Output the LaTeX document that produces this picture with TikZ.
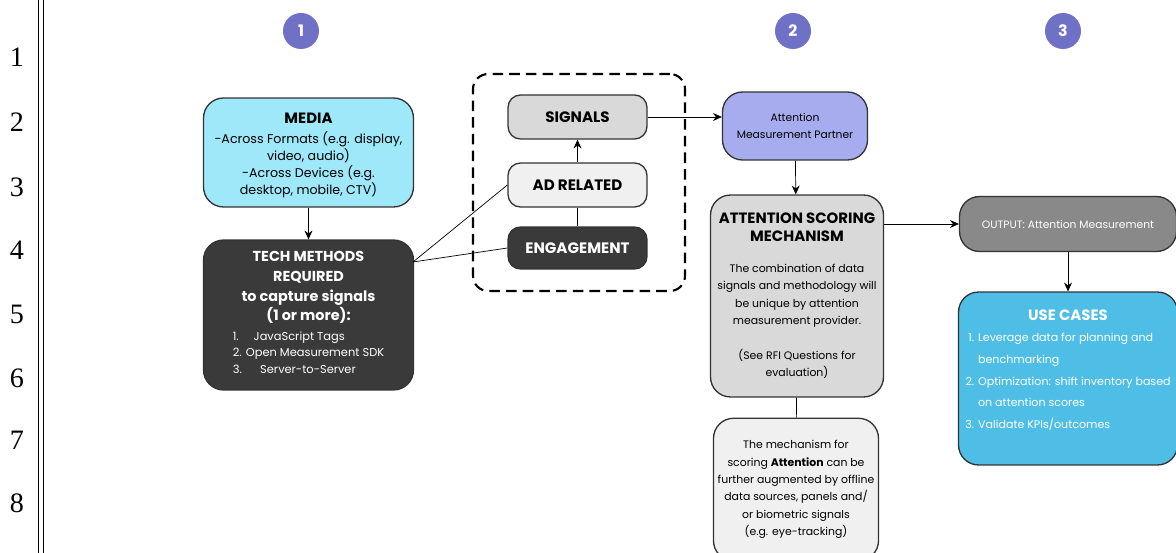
\documentclass[tikz,border=0pt]{standalone}
\usepackage{fontspec}
\setmainfont{Poppins}
\newfontfamily\numfont{Liberation Serif}
\usetikzlibrary{arrows.meta}

\definecolor{stepblue}{RGB}{110,113,198}
\definecolor{mediacyan}{RGB}{158,232,250}
\definecolor{techdark}{RGB}{58,58,58}
\definecolor{signalgray}{RGB}{217,217,217}
\definecolor{palegray}{RGB}{240,240,240}
\definecolor{partnerblue}{RGB}{167,172,238}
\definecolor{outgray}{RGB}{137,137,137}
\definecolor{usecyan}{RGB}{78,190,230}

\newcommand\boxtitle{\fontsize{8.5}{11.5}\selectfont\bfseries}
\newcommand\boxbody{\fontsize{6.2}{9.9}\selectfont\mdseries}

\tikzset{
  box/.style={draw=black!80,line width=.75pt,rounded corners=.4cm,align=center,inner sep=2pt},
  smallbox/.style={box,rounded corners=.25cm,minimum width=2.78cm,font=\fontsize{8.6}{9}\selectfont\bfseries},
  stepnum/.style={circle,fill=stepblue,text=white,minimum size=.72cm,inner sep=0pt,font=\fontsize{9}{10}\selectfont\bfseries},
  lineno/.style={font=\numfont\fontsize{16}{18}\selectfont},
  bodytext/.style={font=\boxbody}
}

\begin{document}
\begin{tikzpicture}[x=.02cm,y=-.02cm,>={Stealth[length=5pt,width=4.5pt]}]
\useasboundingbox (0,0) rectangle (1176,553);
% margin of the page
\foreach \n/\y in {1/57,2/122,3/187,4/250,5/314,6/378,7/440,8/503}
  \node[lineno] (ln\n) at (17,\y) {\n};
\draw[line width=.7pt] (38.5,0) -- (38.5,553);
\draw[line width=.7pt] (43.5,0) -- (43.5,553);

\node[stepnum] (step1) at (301,31) {1};
\node[stepnum] (step2) at (793,31) {2};
\node[stepnum] (step3) at (1063,31) {3};

\node[box,fill=mediacyan,minimum width=4.2cm,minimum height=2.18cm,font=\fontsize{7.2}{9.7}\selectfont] (media) at (308.5,152.5)
  {\raisebox{-1.8pt}[\height][\depth]{\begin{tabular}{@{}c@{}}\boxtitle MEDIA\\[1.5pt]-Across Formats (e.g. display,\\video, audio)\\-Across Devices (e.g.\\desktop, mobile, CTV)\end{tabular}}};
\node[box,fill=techdark,text=white,minimum width=4.2cm,minimum height=3cm,font=\fontsize{8.2}{11.3}\selectfont\bfseries] (tech) at (308.5,315)
  {TECH METHODS\\REQUIRED\\to capture signals\\(1 or more):\\[1.5pt]
   {\fontsize{6.5}{9.6}\selectfont\mdseries\begin{tabular}{@{}l@{}}1.\hspace{1.3em}JavaScript Tags\\2. Open Measurement SDK\\3.\hspace{1.6em}Server-to-Server\end{tabular}}};

\node[draw,line width=1.2pt,dash pattern=on 6pt off 3.5pt,rounded corners=.3cm,minimum width=4.24cm,minimum height=4.34cm] (frame) at (579,182.5) {};
\node[smallbox,fill=signalgray,minimum height=.88cm] (signals) at (577.5,117) {SIGNALS};
\node[smallbox,fill=palegray,minimum height=.88cm] (adrel) at (577.5,185) {AD RELATED};
\node[smallbox,fill=techdark,text=white,minimum height=.84cm] (engage) at (577.5,248) {ENGAGEMENT};
\coordinate (techjoin) at (413,262);

\node[box,fill=partnerblue,minimum width=2.9cm,minimum height=1.36cm,font=\fontsize{6.1}{9.9}\selectfont] (partner) at (795,126)
  {Attention\\Measurement Partner};
\node[box,fill=signalgray,minimum width=3.46cm,minimum height=4.04cm,bodytext] (scoring) at (797,296)
  {\boxtitle ATTENTION SCORING\\\boxtitle MECHANISM\\[8pt]
   The combination of data\\signals and methodology will\\be unique by attention\\measurement provider.\\[9.9pt]
   (See RFI Questions for\\evaluation)};
\node[box,fill=palegray,minimum width=3.3cm,minimum height=2.85cm,bodytext] (augment) at (796,489.5)
  {The mechanism for\\scoring \textbf{Attention} can be\\further augmented by offline\\data sources, panels and/\\or biometric signals\\(e.g. eye-tracking)};

\node[box,fill=outgray,text=white,minimum width=4.34cm,minimum height=1.1cm,font=\fontsize{6.1}{9.9}\selectfont] (output) at (1068,224)
  {OUTPUT: Attention Measurement};
\node[box,fill=usecyan,text=white,minimum width=4.38cm,minimum height=3.46cm,font=\fontsize{6.3}{9.9}\selectfont] (usecases) at (1068,378.5)
  {\fontsize{8.5}{11}\selectfont\bfseries USE CASES\\[2.5pt]
   \renewcommand{\arraystretch}{1.25}\begin{tabular}{@{}r@{\hspace{.35em}}l@{}}1.&Leverage data for planning and\\&benchmarking\\2.&Optimization: shift inventory based\\&on attention scores\\3.&Validate KPIs/outcomes\end{tabular}\\[6pt]};

\draw[->] (media) -- (tech);
\draw (techjoin) -- (adrel.west);
\draw (techjoin) -- (engage.west);
\draw (engage) -- (adrel);
\draw[->] (adrel) -- (signals);
\draw[->] (signals.east) -- (signals.east -| partner.west);
\draw[->] (partner) -- (scoring);
\draw (scoring) -- (augment);
\draw[->] (output.west -| scoring.east) -- (output.west);
\draw[->] (output) -- (usecases);
\end{tikzpicture}
\end{document}
